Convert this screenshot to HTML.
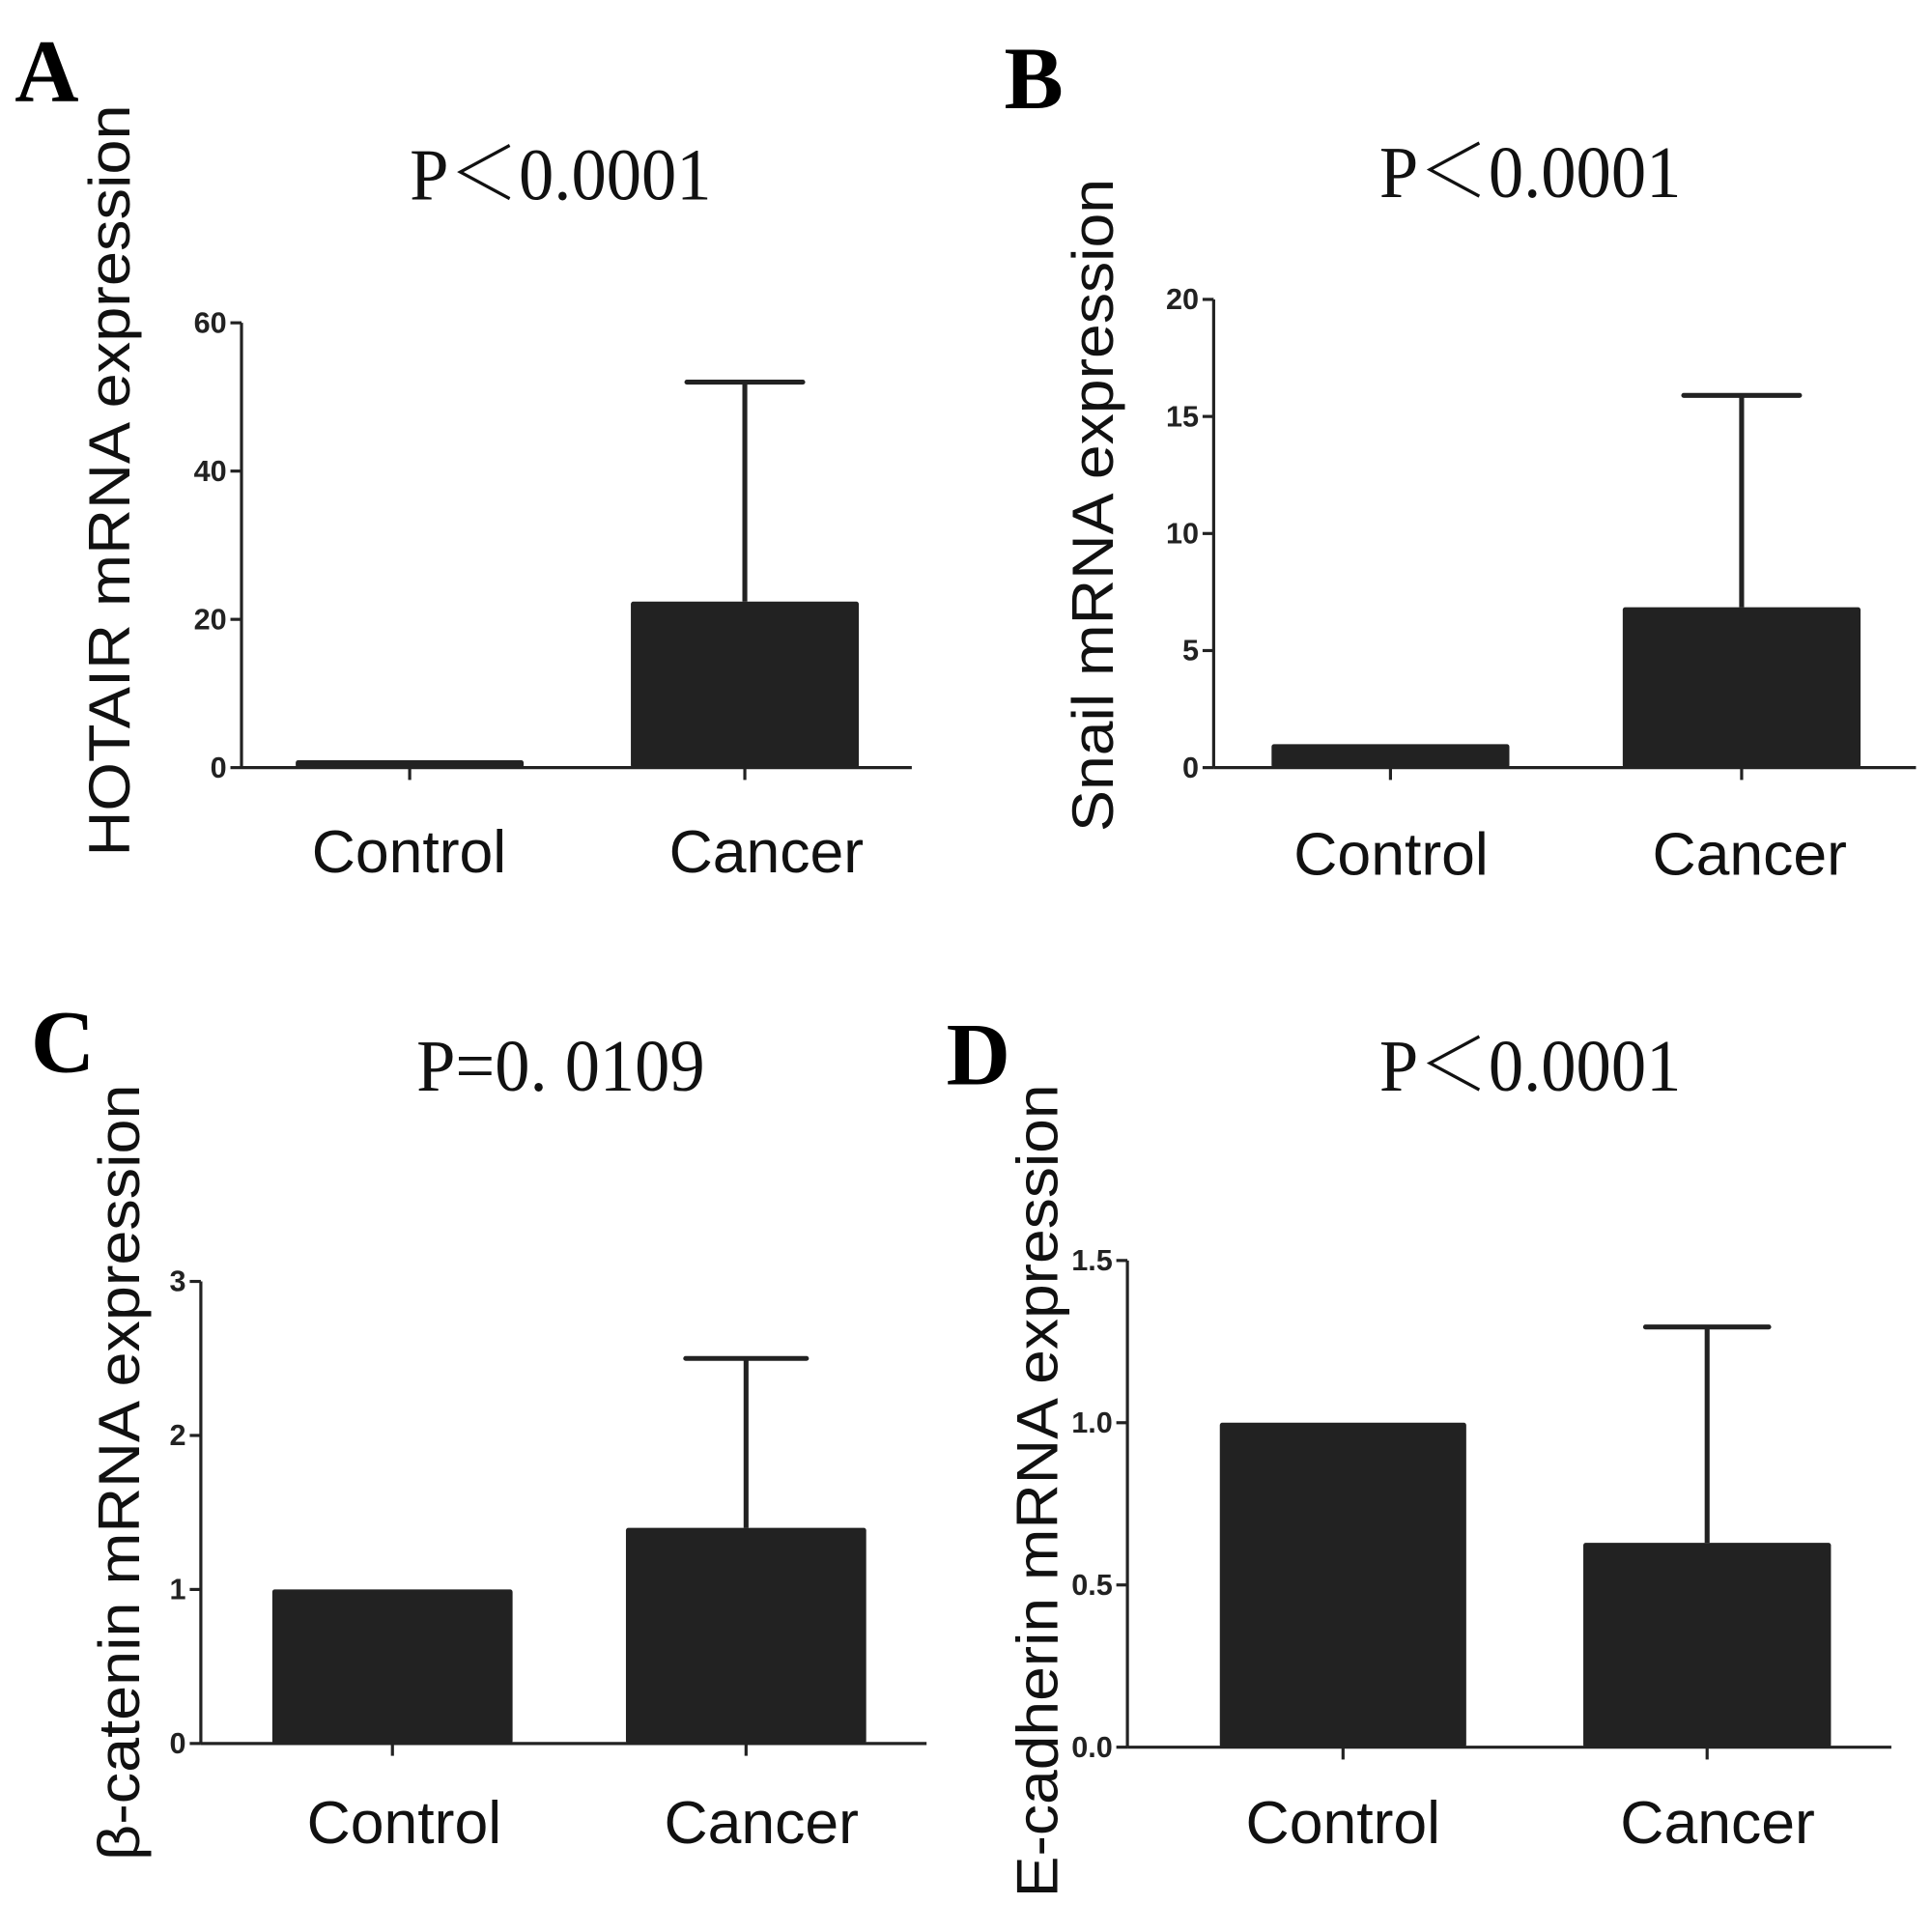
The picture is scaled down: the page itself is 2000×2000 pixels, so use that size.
<!DOCTYPE html>
<html><head><meta charset="utf-8"><style>
html,body{margin:0;padding:0;background:#fff;}
svg{display:block;}
.tick{font-family:"Liberation Sans",Arial,sans-serif;font-weight:bold;font-size:24px;fill:#222;}
.cat{font-family:"Liberation Sans",Arial,sans-serif;font-size:49px;fill:#111;}
.ylab{font-family:"Liberation Sans",Arial,sans-serif;font-size:47px;fill:#111;}
.ttl{font-family:"Liberation Serif","Noto Serif CJK SC",serif;font-size:60px;fill:#111;}
.let{font-family:"Liberation Serif",serif;font-weight:bold;font-size:72px;fill:#000;}
</style></head><body>
<svg id="fig" width="2000" height="2000" viewBox="0 0 1568 1568" xmlns="http://www.w3.org/2000/svg"></svg>
<script>
const categories = ["Control","Cancer"];
const meansA = [1, 22.4];
const errA = [0, 52];
const ticksA = [0,20,40,60];
const meansB = [1, 6.85];
const errB = [0, 15.9];
const ticksB = [0,5,10,15,20];
const meansC = [1, 1.4];
const errC = [0, 2.5];
const ticksC = [0,1,2,3];
const meansD = [1.0, 0.63];
const errD = [0, 1.295];
const ticksD = ["0.0","0.5","1.0","1.5"];

const panels = [
 {id:"a",letter:"A",lx:12,ly:82,title:"P＜0.0001",tx:455,ty:162,tw:245,ylab:"HOTAIR mRNA expression",ylx:105,yly:390,ylw:610,
  ax:196,top:262,zero:623,right:740,max:60,ticks:ticksA,means:meansA,errs:errA,bars:[[240,425],[512,697]],cap:47,caty:708,catx:[332,622]},
 {id:"b",letter:"B",lx:815,ly:88,title:"P＜0.0001",tx:1242,ty:160,tw:245,ylab:"Snail mRNA expression",ylx:903,yly:410,ylw:530,
  ax:985,top:243,zero:623,right:1555,max:20,ticks:ticksB,means:meansB,errs:errB,bars:[[1032,1225],[1317,1510]],cap:47,caty:710,catx:[1129,1420]},
 {id:"c",letter:"C",lx:25,ly:870,title:"P=0. 0109",tx:455,ty:885,tw:234,ylab:"β-catenin mRNA expression",ylx:113,yly:1195,ylw:630,
  ax:163,top:1040,zero:1415,right:752,max:3,ticks:ticksC,means:meansC,errs:errC,bars:[[221,416],[508,703]],cap:49,caty:1496,catx:[328,618]},
 {id:"d",letter:"D",lx:768,ly:880,title:"P＜0.0001",tx:1242,ty:885,tw:245,ylab:"E-cadherin mRNA expression",ylx:858,yly:1210,ylw:660,
  ax:915,top:1023,zero:1418,right:1535,max:1.5,ticks:ticksD,means:meansD,errs:errD,bars:[[990,1190],[1285,1486]],cap:50,caty:1496,catx:[1090,1394]}
];
const NS="http://www.w3.org/2000/svg";
const svg=document.getElementById('fig');
function mk(tag,attrs,parent,text){const e=document.createElementNS(NS,tag);for(const k in attrs)e.setAttribute(k,attrs[k]);if(text!==undefined)e.textContent=text;parent.appendChild(e);return e;}
panels.forEach(p=>{
  const g=mk('g',{},svg);
  
  
  const yS=v=>p.zero-(+v)/p.max*(p.zero-p.top);
  const L=mk('text',{x:p.lx,y:p.ly,class:'let'},g,p.letter);
  
  
  const T=mk('text',{x:p.tx,y:p.ty,class:'ttl','text-anchor':'middle',textLength:p.tw,lengthAdjust:'spacingAndGlyphs'},g,p.title);
  
  
  const Y=mk('text',{x:0,y:0,class:'ylab','text-anchor':'middle',textLength:p.ylw,lengthAdjust:'spacingAndGlyphs',transform:`translate(${p.ylx},${p.yly}) rotate(-90)`},g,p.ylab);
  
  
  p.means.forEach((m,i)=>{
    const [x0,x1]=p.bars[i];const cx=(x0+x1)/2;
    if(p.errs[i]>0){
      const el=mk('line',{x1:cx,x2:cx,y1:yS(m),y2:yS(p.errs[i]),stroke:'#222','stroke-width':4},g);
      
      
      const cp=mk('line',{x1:cx-p.cap,x2:cx+p.cap,y1:yS(p.errs[i]),y2:yS(p.errs[i]),stroke:'#222','stroke-width':4,'stroke-linecap':'round'},g);
      
      
    }
    const r=mk('rect',{x:x0,y:yS(m),width:x1-x0,height:p.zero-yS(m),fill:'#222',rx:2},g);
    
    
    const tk=mk('line',{x1:cx,x2:cx,y1:p.zero,y2:p.zero+10,stroke:'#222','stroke-width':2.5},g);
    
    
    const c=mk('text',{x:p.catx[i],y:p.caty,class:'cat','text-anchor':'middle'},g,categories[i]);
    
    
  });
  const ya=mk('line',{x1:p.ax,x2:p.ax,y1:p.top,y2:p.zero,stroke:'#222','stroke-width':2.5},g);
  
  
  const xa=mk('line',{x1:p.ax,x2:p.right,y1:p.zero,y2:p.zero,stroke:'#222','stroke-width':2.5},g);
  
  
  p.ticks.forEach(t=>{
    const y=yS(t);
    const l=mk('line',{x1:p.ax-9,x2:p.ax,y1:y,y2:y,stroke:'#222','stroke-width':2.5},g);
    
    
    const tx=mk('text',{x:p.ax-12,y:y+8,class:'tick','text-anchor':'end'},g,String(t));
    
    
  });
});
</script>
</body></html>
